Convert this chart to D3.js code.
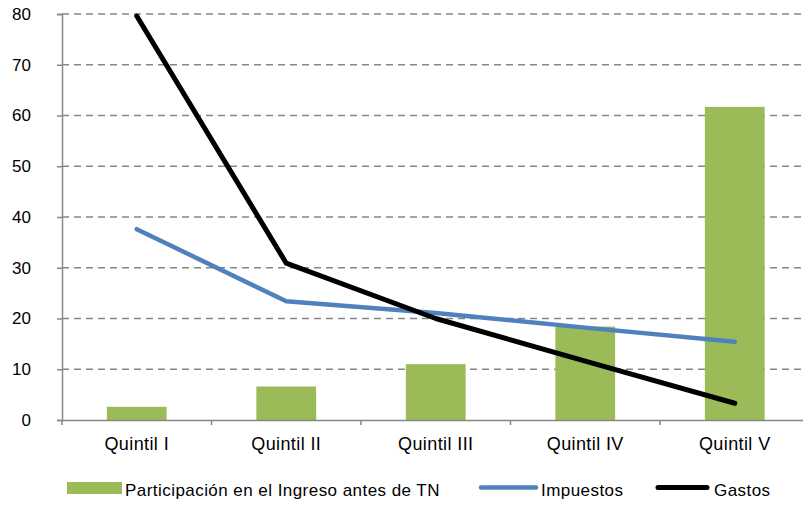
<!DOCTYPE html>
<html>
<head>
<meta charset="utf-8">
<script src="https://cdn.jsdelivr.net/npm/d3@7"></script>
<style>
  body { margin: 0; background: #fff; }
  svg { font-family: "Liberation Sans", Arial, sans-serif; }
</style>
</head>
<body>
<svg width="803" height="506"></svg>
<script>
// data
const quintiles = ["Quintil I", "Quintil II", "Quintil III", "Quintil IV", "Quintil V"];
const participacion = [2.6, 6.6, 11.0, 18.4, 61.7];
const impuestos = [37.6, 23.4, 21.1, 18.2, 15.4];
const gastos = [79.6, 30.9, 20.0, 11.6, 3.3];
const yTicks = [0, 10, 20, 30, 40, 50, 60, 70, 80];

const svg = d3.select("svg");

// scales
const xScale = d3.scaleBand()
    .domain(quintiles)
    .range([62, 809.5])
    .padding(0);

const yScale = d3.scaleLinear()
    .domain([0, 80])
    .range([420, 14]);

// gridlines
svg.append("g")
    .selectAll("line")
    .data(yTicks.filter(d => d > 0))
    .enter()
    .append("line")
    .attr("x1", 62)
    .attr("x2", 803)
    .attr("y1", d => yScale(d))
    .attr("y2", d => yScale(d))
    .attr("stroke", "#878787")
    .attr("stroke-width", 1.5)
    .attr("stroke-dasharray", "7,5");

// y axis
const yAxis = d3.axisLeft(yScale).tickValues(yTicks).tickSize(5).tickPadding(26);
const gy = svg.append("g")
    .attr("transform", "translate(62,0)")
    .call(yAxis);
gy.select(".domain").attr("stroke", "#878787").attr("stroke-width", 1.5);
gy.selectAll(".tick line").attr("stroke", "#878787").attr("stroke-width", 1.5);
gy.selectAll("text").attr("font-size", 17).attr("fill", "#000")
    .attr("font-family", "Liberation Sans, Arial, sans-serif");

// bars
const barW = xScale.bandwidth() * 0.4;
svg.append("g")
    .selectAll("rect")
    .data(participacion)
    .enter()
    .append("rect")
    .attr("x", (d, i) => xScale(quintiles[i]) + xScale.bandwidth() / 2 - barW / 2)
    .attr("y", d => yScale(d))
    .attr("width", barW)
    .attr("height", d => yScale(0) - yScale(d))
    .attr("fill", "#9BBB59");

// x axis
const xAxis = d3.axisBottom(xScale).tickSize(0).tickPadding(17);
const gx = svg.append("g")
    .attr("transform", "translate(0,420)")
    .call(xAxis);
gx.select(".domain").attr("stroke", "#878787").attr("stroke-width", 1.5);
gx.selectAll("text").attr("font-size", 18).attr("fill", "#000")
    .attr("letter-spacing", 0.4)
    .attr("font-family", "Liberation Sans, Arial, sans-serif");

// category boundary ticks
svg.append("g")
    .selectAll("line")
    .data(quintiles)
    .enter()
    .append("line")
    .attr("x1", d => xScale(d))
    .attr("x2", d => xScale(d))
    .attr("y1", 420)
    .attr("y2", 425)
    .attr("stroke", "#878787")
    .attr("stroke-width", 1.5);

// lines
const line = d3.line()
    .x((d, i) => xScale(quintiles[i]) + xScale.bandwidth() / 2)
    .y(d => yScale(d));

svg.append("path")
    .datum(impuestos)
    .attr("d", line)
    .attr("fill", "none")
    .attr("stroke", "#4F81BD")
    .attr("stroke-width", 4.5)
    .attr("stroke-linecap", "round")
    .attr("stroke-linejoin", "round");

svg.append("path")
    .datum(gastos)
    .attr("d", line)
    .attr("fill", "none")
    .attr("stroke", "#000")
    .attr("stroke-width", 5)
    .attr("stroke-linecap", "round")
    .attr("stroke-linejoin", "round");

// legend
const legend = svg.append("g").attr("font-size", 17).attr("letter-spacing", 0.45);

legend.append("rect")
    .attr("x", 67).attr("y", 482).attr("width", 55).attr("height", 12)
    .attr("fill", "#9BBB59");
legend.append("text")
    .attr("x", 125).attr("y", 496)
    .text("Participación en el Ingreso antes de TN");

legend.append("line")
    .attr("x1", 481).attr("x2", 536).attr("y1", 487.5).attr("y2", 487.5)
    .attr("stroke", "#4F81BD").attr("stroke-width", 4.5).attr("stroke-linecap", "round");
legend.append("text")
    .attr("x", 541).attr("y", 496)
    .text("Impuestos");

legend.append("line")
    .attr("x1", 658).attr("x2", 707).attr("y1", 487.5).attr("y2", 487.5)
    .attr("stroke", "#000").attr("stroke-width", 5).attr("stroke-linecap", "round");
legend.append("text")
    .attr("x", 714).attr("y", 496)
    .text("Gastos");
</script>
</body>
</html>
